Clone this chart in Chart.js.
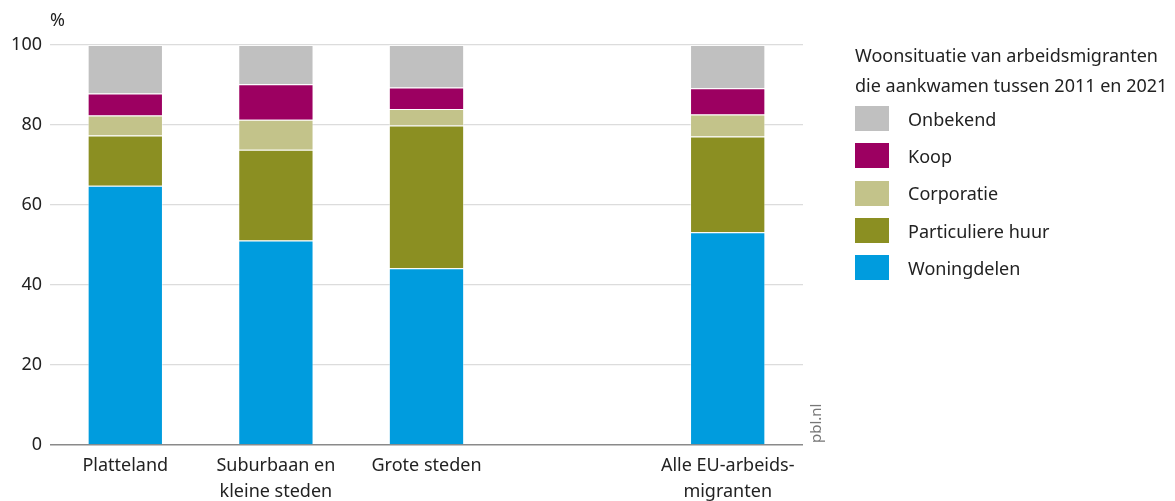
<!DOCTYPE html>
<html>
<head>
<meta charset="utf-8">
<script src="https://cdn.jsdelivr.net/npm/chart.js@4.4.1/dist/chart.umd.min.js"></script>
<style>
  html, body { margin: 0; padding: 0; background: #fff; }
  #wrap { position: relative; width: 1175px; height: 501px; font-family: "Noto Sans", sans-serif; color: #222; }
  #legend { position: absolute; left: 855px; top: 40px; font-size: 18px; }
  #legend .title { line-height: 30px; margin-bottom: 0px; }
  #legend .item { display: flex; align-items: center; height: 37.3px; }
  #legend .box { width: 34px; height: 25px; margin-right: 19px; }
</style>
</head>
<body>
<div id="wrap">
  <canvas id="chart" width="1175" height="501"></canvas>
  <div id="legend"></div>
</div>
<script>
// Categorieën (lege plek tussen Grote steden en het totaal)
const categories = ['Platteland', ['Suburbaan en', 'kleine steden'], 'Grote steden', '', ['Alle EU-arbeids-', 'migranten']];

// Aandelen per woonsituatie (%)
const woningdelen = [64.8, 51.1, 44.2, null, 53.2];
const particuliereHuur = [12.6, 22.7, 35.7, null, 23.9];
const corporatie = [5.0, 7.5, 4.1, null, 5.5];
const koop = [5.5, 8.9, 5.4, null, 6.6];
const onbekend = [12.1, 9.8, 10.6, null, 10.8];

const yTicks = [0, 20, 40, 60, 80, 100];
const legendTitle = ['Woonsituatie van arbeidsmigranten', 'die aankwamen tussen 2011 en 2021'];

const fontFamily = '"Noto Sans", sans-serif';

const series = [
    { label: 'Woningdelen', data: woningdelen, color: '#009cde' },
    { label: 'Particuliere huur', data: particuliereHuur, color: '#8b8f22' },
    { label: 'Corporatie', data: corporatie, color: '#c3c38a' },
    { label: 'Koop', data: koop, color: '#9c0061' },
    { label: 'Onbekend', data: onbekend, color: '#c0c0c0' }
];

// Tekst "%" boven de as en "pbl.nl" verticaal
const extraText = {
    id: 'extraText',
    afterDraw(chart) {
        const ctx = chart.ctx;
        const area = chart.chartArea;
        ctx.save();
        ctx.fillStyle = '#222';
        ctx.font = '18px ' + fontFamily;
        ctx.textAlign = 'left';
        ctx.textBaseline = 'middle';
        ctx.fillText('%', area.left, 21);
        ctx.translate(area.right + 14, area.bottom - 2);
        ctx.rotate(-Math.PI / 2);
        ctx.fillStyle = '#777';
        ctx.font = '15px ' + fontFamily;
        ctx.textBaseline = 'middle';
        ctx.fillText('pbl.nl', 0, 0);
        ctx.restore();
    }
};

const chart = new Chart(document.getElementById('chart').getContext('2d'), {
    type: 'bar',
    data: {
        labels: categories,
        datasets: series.map(s => ({
            label: s.label,
            data: s.data,
            backgroundColor: s.color,
            borderColor: 'rgba(255,255,255,0.45)',
            borderWidth: 1,
            barPercentage: 0.5,
            categoryPercentage: 1
        }))
    },
    options: {
        responsive: false,
        animation: false,
        layout: { padding: { top: 45, right: 372, bottom: 0, left: 0 } },
        plugins: {
            legend: { display: false },
            tooltip: { enabled: false }
        },
        scales: {
            x: {
                stacked: true,
                afterFit(scale) { scale.height = 56; },
                grid: { display: false },
                border: { display: false },
                ticks: {
                    color: '#222',
                    font: { family: fontFamily, size: 18, lineHeight: 1.45 },
                    maxRotation: 0,
                    autoSkip: false,
                    padding: 0
                }
            },
            y: {
                stacked: true,
                min: 0,
                max: 100,
                afterFit(scale) { scale.width = 50; },
                afterBuildTicks(scale) { scale.ticks = yTicks.map(v => ({ value: v })); },
                grid: {
                    drawTicks: false,
                    color: c => c.tick && c.tick.value === 0 ? '#8a8a8a' : '#dcdcdc',
                    lineWidth: c => c.tick && c.tick.value === 0 ? 1.5 : 1.2
                },
                border: { display: false },
                ticks: {
                    color: '#222',
                    font: { family: fontFamily, size: 18 },
                    padding: 8
                }
            }
        }
    },
    plugins: [extraText]
});

// Legenda in HTML, van boven naar beneden zoals in de stapel
const legendEl = document.getElementById('legend');
let html = '<div class="title">' + legendTitle.join('<br>') + '</div>';
chart.data.datasets.slice().reverse().forEach(ds => {
    html += '<div class="item"><span class="box" style="background:' + ds.backgroundColor + '"></span>' + ds.label + '</div>';
});
legendEl.innerHTML = html;
</script>
</body>
</html>
